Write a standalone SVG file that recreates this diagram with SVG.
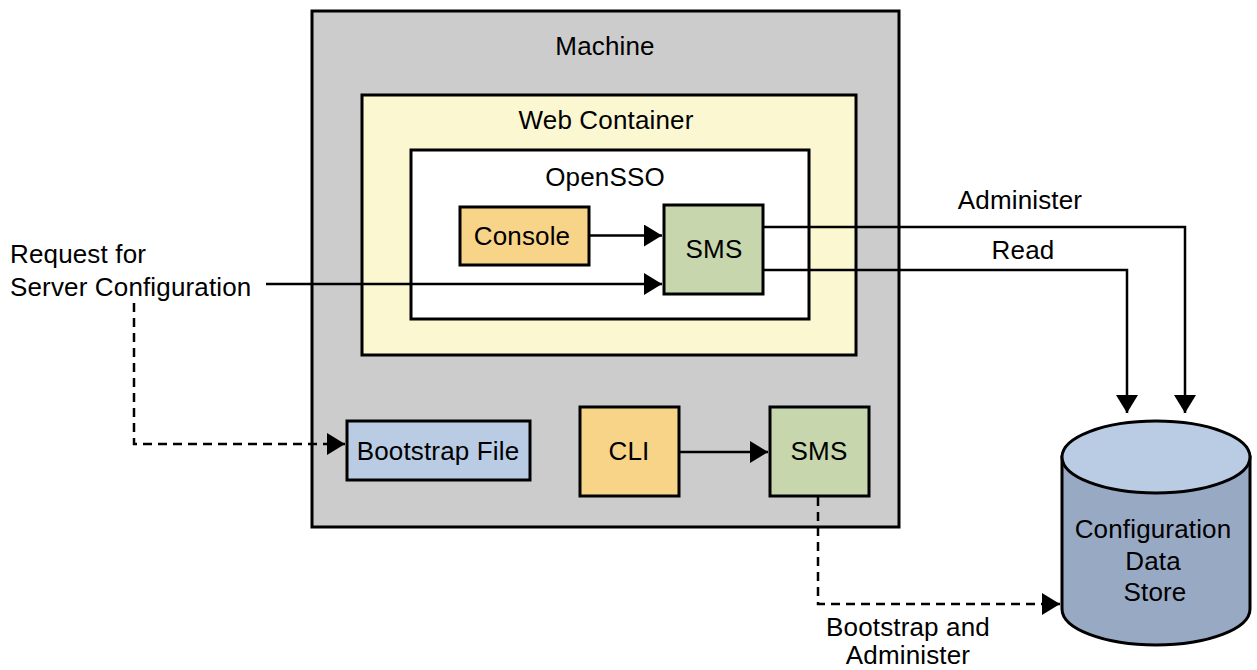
<svg xmlns="http://www.w3.org/2000/svg" width="1257" height="670" viewBox="0 0 1257 670">
<style>
text{font-family:"Liberation Sans",Arial,sans-serif;font-size:26px;fill:#000;letter-spacing:0.15px}
.c{text-anchor:middle}
.box{stroke:#000;stroke-width:3}
.ln{fill:none;stroke:#000;stroke-width:2.5}
.dash{stroke-dasharray:9 6}
</style>
<defs>
<marker id="ah" markerUnits="userSpaceOnUse" markerWidth="20" markerHeight="22" refX="18" refY="11" orient="auto">
<path d="M0,0 L18,11 L0,22 Z" fill="#000"/>
</marker>
</defs>
<g id="machine">
<rect class="box" x="312" y="11" width="587" height="516" fill="#cccccc"/>
<text class="c" x="605" y="55">Machine</text>
</g>
<g id="webcontainer">
<rect class="box" x="362" y="95" width="494" height="260" fill="#fbf7d1"/>
<text class="c" x="606" y="129">Web Container</text>
</g>
<g id="opensso">
<rect class="box" x="411" y="150" width="398" height="169" fill="#ffffff"/>
<text class="c" x="605" y="186">OpenSSO</text>
</g>
<g id="console">
<rect class="box" x="460" y="207" width="129" height="58" fill="#f7d488"/>
<text class="c" x="522" y="245">Console</text>
</g>
<g id="sms1">
<rect class="box" x="664" y="205" width="99" height="89" fill="#c7d6ac"/>
<text class="c" x="714" y="258">SMS</text>
</g>
<g id="bootstrap">
<rect class="box" x="347" y="421" width="183" height="59" fill="#b9cce4"/>
<text class="c" x="438" y="460">Bootstrap File</text>
</g>
<g id="cli">
<rect class="box" x="580" y="407" width="99" height="89" fill="#f7d488"/>
<text class="c" x="629" y="460">CLI</text>
</g>
<g id="sms2">
<rect class="box" x="770" y="407" width="99" height="89" fill="#c7d6ac"/>
<text class="c" x="819" y="460">SMS</text>
</g>
<g id="datastore">
<path class="box" d="M1062,457 L1062,609 A94,36 0 0 0 1250,609 L1250,457 Z" fill="#98a9c4"/>
<ellipse class="box" cx="1156" cy="457" rx="94" ry="36" fill="#b9cce4"/>
<text class="c" x="1153" y="538">Configuration</text>
<text class="c" x="1153" y="570">Data</text>
<text class="c" x="1155" y="601">Store</text>
</g>
<g id="request">
<text x="10" y="263">Request for</text>
<text x="10" y="296">Server Configuration</text>
</g>
<g id="connectors">
<path class="ln" d="M589,235.5 L662,235.5" marker-end="url(#ah)"/>
<path class="ln" d="M266,284 L662,284" marker-end="url(#ah)"/>
<path class="ln" d="M763,227 L1185,227 L1185,413" marker-end="url(#ah)"/>
<path class="ln" d="M763,270 L1127,270 L1127,413" marker-end="url(#ah)"/>
<path class="ln" d="M679,452 L768,452" marker-end="url(#ah)"/>
<path class="ln dash" d="M134,303 L134,444 L345,444" marker-end="url(#ah)"/>
<path class="ln dash" d="M818,497 L818,604 L1060,604" marker-end="url(#ah)"/>
<text class="c" x="1020" y="209">Administer</text>
<text class="c" x="1023" y="259">Read</text>
<text class="c" x="908" y="636">Bootstrap and</text>
<text class="c" x="908" y="664">Administer</text>
</g>
</svg>
